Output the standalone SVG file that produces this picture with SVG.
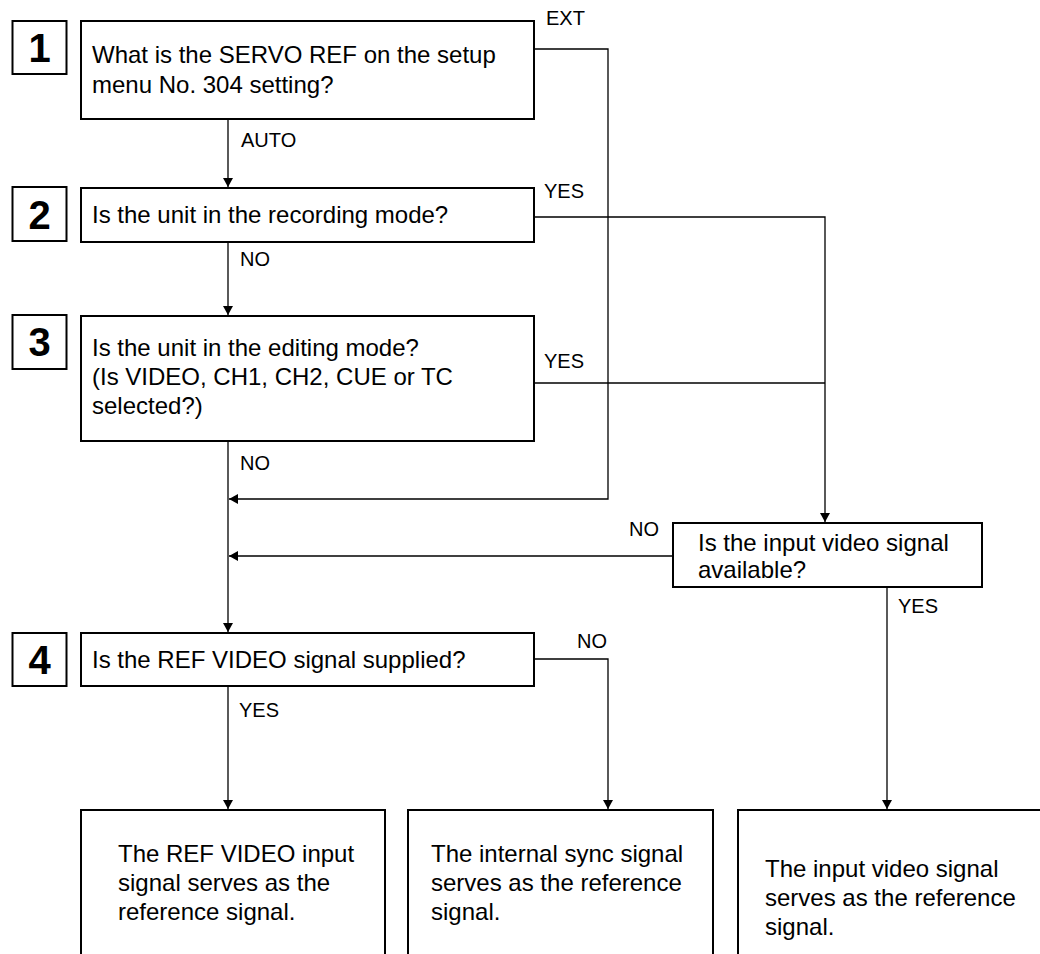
<svg xmlns="http://www.w3.org/2000/svg" width="1040" height="954" viewBox="0 0 1040 954">
<style>
  .box { fill: #fff; stroke: #000; stroke-width: 2; }
  .num { font-family: "Liberation Sans", Arial, sans-serif; font-size: 40px; font-weight: bold; fill: #000; text-anchor: middle; }
  .t { font-family: "Liberation Sans", Arial, sans-serif; font-size: 24px; fill: #000; }
  .lbl { font-family: "Liberation Sans", Arial, sans-serif; font-size: 20px; fill: #000; }
  .c { fill: none; stroke: #000; stroke-width: 1.3; }
  .ca { fill: none; stroke: #000; stroke-width: 1.3; marker-end: url(#arr); }
</style>
<defs>
  <marker id="arr" markerUnits="userSpaceOnUse" markerWidth="10" markerHeight="10" refX="9" refY="5" orient="auto">
    <path d="M0,0 L9,5 L0,10 z" fill="#000"/>
  </marker>
</defs>
<rect width="1040" height="954" fill="#fff"/>

<g id="connectors">
  <path class="ca" d="M228,119 V187"/>
  <path class="ca" d="M228,242 V315"/>
  <path class="ca" d="M228,441 V632"/>
  <path class="ca" d="M534,49 H608 V499 H229"/>
  <path class="ca" d="M534,217 H825 V522"/>
  <path class="c" d="M534,383 H825"/>
  <path class="ca" d="M673,556 H229"/>
  <path class="ca" d="M887,587 V809"/>
  <path class="ca" d="M228,686 V809"/>
  <path class="ca" d="M534,659 H608 V809"/>
  <text class="lbl" x="546" y="25">EXT</text>
  <text class="lbl" x="241" y="147">AUTO</text>
  <text class="lbl" x="544" y="198">YES</text>
  <text class="lbl" x="240" y="266">NO</text>
  <text class="lbl" x="544" y="368">YES</text>
  <text class="lbl" x="240" y="470">NO</text>
  <text class="lbl" x="629" y="536">NO</text>
  <text class="lbl" x="898" y="613">YES</text>
  <text class="lbl" x="577" y="648">NO</text>
  <text class="lbl" x="239" y="717">YES</text>
</g>

<g id="step1">
  <rect class="box" x="12.5" y="21" width="54" height="53"/>
  <text class="num" x="39.5" y="62">1</text>
</g>
<g id="q1">
  <rect class="box" x="81" y="21" width="453" height="98"/>
  <text class="t" x="92" y="63">What is the SERVO REF on the setup</text>
  <text class="t" x="92" y="93">menu No. 304 setting?</text>
</g>

<g id="step2">
  <rect class="box" x="12.5" y="187" width="54" height="54"/>
  <text class="num" x="39.5" y="229">2</text>
</g>
<g id="q2">
  <rect class="box" x="81" y="188" width="453" height="54"/>
  <text class="t" x="92" y="223">Is the unit in the recording mode?</text>
</g>

<g id="step3">
  <rect class="box" x="12.5" y="315" width="54" height="54"/>
  <text class="num" x="39.5" y="356">3</text>
</g>
<g id="q3">
  <rect class="box" x="81" y="316" width="453" height="125"/>
  <text class="t" x="92" y="356">Is the unit in the editing mode?</text>
  <text class="t" x="92" y="385">(Is VIDEO, CH1, CH2, CUE or TC</text>
  <text class="t" x="92" y="414">selected?)</text>
</g>

<g id="qinput">
  <rect class="box" x="673" y="523" width="309" height="64"/>
  <text class="t" x="698" y="551">Is the input video signal</text>
  <text class="t" x="698" y="578">available?</text>
</g>

<g id="step4">
  <rect class="box" x="12.5" y="633" width="54" height="53"/>
  <text class="num" x="39.5" y="674">4</text>
</g>
<g id="q4">
  <rect class="box" x="81" y="633" width="453" height="53"/>
  <text class="t" x="92" y="668">Is the REF VIDEO signal supplied?</text>
</g>

<g id="resultRef">
  <rect class="box" x="81" y="810" width="304" height="160"/>
  <text class="t" x="118" y="862">The REF VIDEO input</text>
  <text class="t" x="118" y="891">signal serves as the</text>
  <text class="t" x="118" y="920">reference signal.</text>
</g>
<g id="resultInternal">
  <rect class="box" x="408" y="810" width="305" height="160"/>
  <text class="t" x="431" y="862">The internal sync signal</text>
  <text class="t" x="431" y="891">serves as the reference</text>
  <text class="t" x="431" y="920">signal.</text>
</g>
<g id="resultInput">
  <rect class="box" x="738" y="810" width="305" height="160"/>
  <text class="t" x="765" y="877">The input video signal</text>
  <text class="t" x="765" y="906">serves as the reference</text>
  <text class="t" x="765" y="935">signal.</text>
</g>
</svg>
